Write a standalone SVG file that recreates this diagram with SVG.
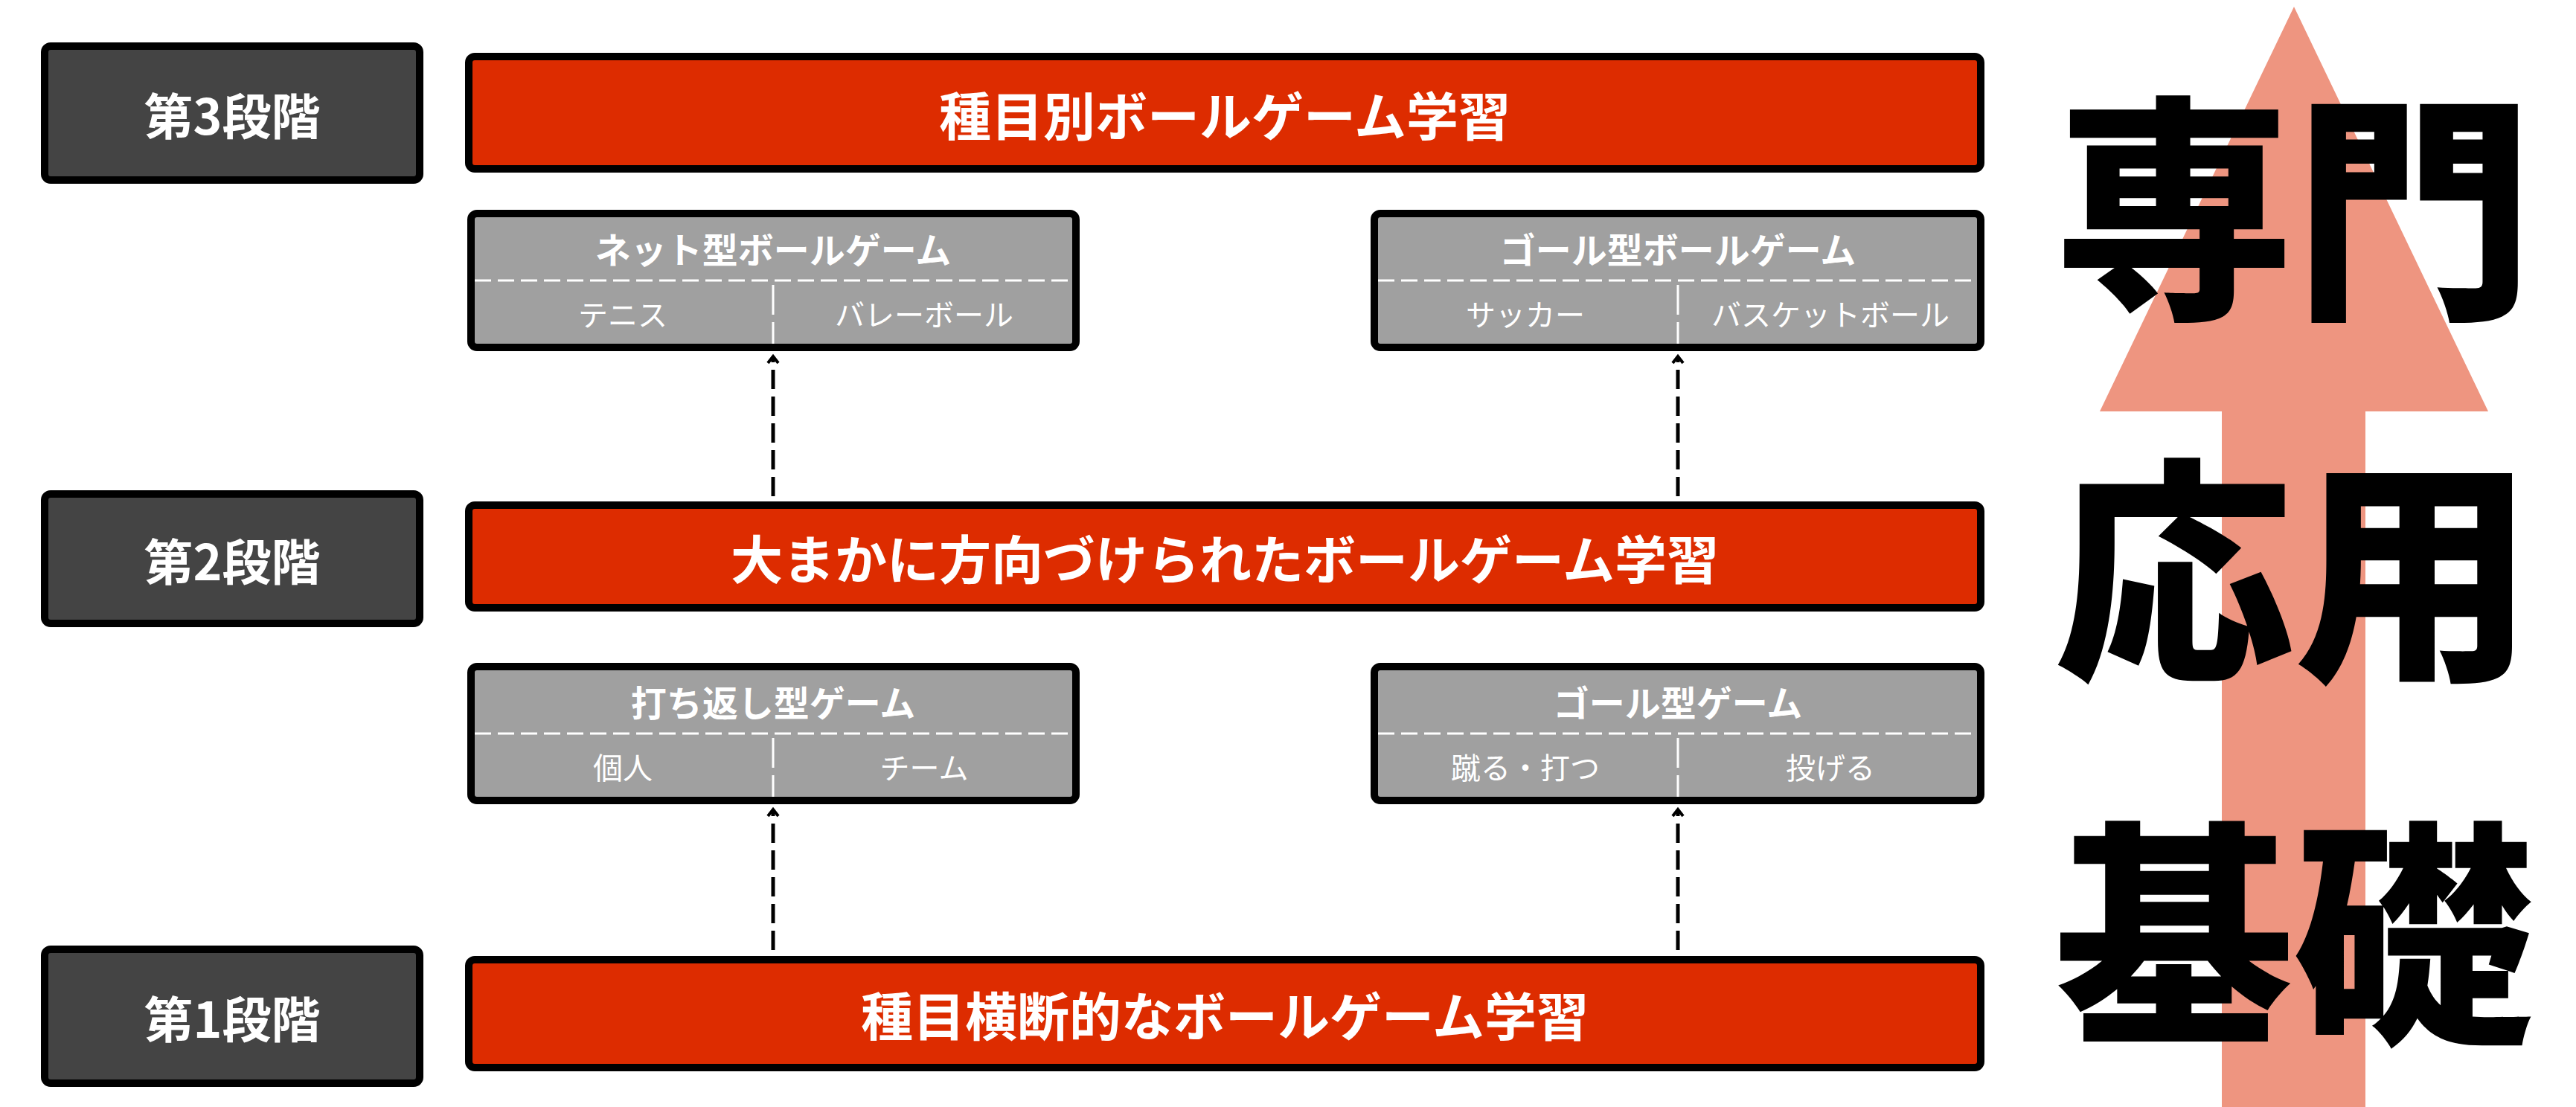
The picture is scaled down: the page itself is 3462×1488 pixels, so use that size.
<svg xmlns="http://www.w3.org/2000/svg" width="3462" height="1488" viewBox="0 0 3462 1488">
<style>
text{font-family:"Noto Sans CJK JP","Noto Sans",sans-serif;font-weight:bold;text-anchor:middle;dominant-baseline:central;fill:#fff}
.stage{fill:#444;stroke:#000;stroke-width:10}
.bar{fill:#DD2C00;stroke:#000;stroke-width:10}
.gray{fill:#A0A0A0;stroke:#000;stroke-width:10}
.sep{stroke:#fff;stroke-width:3;stroke-dasharray:22 9;fill:none}
.div{stroke:#fff;stroke-width:3;stroke-dasharray:40 10;fill:none}
.st{font-size:66px}
.bt{font-size:70px}
.ht{font-size:48px}
.sb{font-size:40px;font-weight:normal}
.big{font-size:322px;fill:#000;font-weight:900}
.con{stroke:#000;stroke-width:5;stroke-dasharray:26 10;fill:none;marker-end:url(#ah)}
</style>
<defs>
<marker id="ah" viewBox="0 0 10 10" refX="5" refY="2" markerWidth="5" markerHeight="5" orient="auto-start-reverse" markerUnits="userSpaceOnUse">
</marker>
<marker id="a" markerUnits="userSpaceOnUse" viewBox="-12 -12 24 24" refX="0" refY="0" markerWidth="24" markerHeight="24" orient="auto">
<path d="M-9,-7 L0,0 L-9,7" fill="none" stroke="#000" stroke-width="4"/>
</marker>
</defs>
<g id="bigarrow"><polygon points="3083,9 3344,553 3179,553 3179,1488 2986,1488 2986,553 2822,553" fill="#EE9580"/></g>
<g id="bigtext">
<text class="big" x="3083" y="263">専門</text>
<text class="big" x="3083" y="750">応用</text>
<text class="big" x="3083" y="1238">基礎</text>
</g>
<g id="stage3"><rect class="stage" x="60" y="62" width="504" height="180" rx="8"/><text class="st" x="312" y="152">第3段階</text></g>
<g id="stage2"><rect class="stage" x="60" y="664" width="504" height="174" rx="8"/><text class="st" x="312" y="751">第2段階</text></g>
<g id="stage1"><rect class="stage" x="60" y="1276" width="504" height="180" rx="8"/><text class="st" x="312" y="1366">第1段階</text></g>
<g id="bar3"><rect class="bar" x="630" y="76" width="2032" height="151" rx="8"/><text class="bt" x="1646" y="152">種目別ボールゲーム学習</text></g>
<g id="bar2"><rect class="bar" x="630" y="679" width="2032" height="138" rx="8"/><text class="bt" x="1646" y="748">大まかに方向づけられたボールゲーム学習</text></g>
<g id="bar1"><rect class="bar" x="630" y="1290" width="2032" height="145" rx="8"/><text class="bt" x="1646" y="1362">種目横断的なボールゲーム学習</text></g>
<g id="net"><rect class="gray" x="633" y="287" width="813" height="180" rx="8"/><line class="sep" x1="638" y1="377" x2="1441" y2="377"/><line class="div" x1="1039" y1="383" x2="1039" y2="462"/>
<text class="ht" x="1039" y="333">ネット型ボールゲーム</text><text class="sb" x="837" y="421">テニス</text><text class="sb" x="1242" y="421">バレーボール</text></g>
<g id="goalball"><rect class="gray" x="1847" y="287" width="815" height="180" rx="8"/><line class="sep" x1="1852" y1="377" x2="2657" y2="377"/><line class="div" x1="2255" y1="383" x2="2255" y2="462"/>
<text class="ht" x="2255" y="333">ゴール型ボールゲーム</text><text class="sb" x="2050" y="421">サッカー</text><text class="sb" x="2460" y="421">バスケットボール</text></g>
<g id="strike"><rect class="gray" x="633" y="896" width="813" height="180" rx="8"/><line class="sep" x1="638" y1="986" x2="1441" y2="986"/><line class="div" x1="1039" y1="992" x2="1039" y2="1071"/>
<text class="ht" x="1039" y="942">打ち返し型ゲーム</text><text class="sb" x="837" y="1030">個人</text><text class="sb" x="1242" y="1030">チーム</text></g>
<g id="goal"><rect class="gray" x="1847" y="896" width="815" height="180" rx="8"/><line class="sep" x1="1852" y1="986" x2="2657" y2="986"/><line class="div" x1="2255" y1="992" x2="2255" y2="1071"/>
<text class="ht" x="2255" y="942">ゴール型ゲーム</text><text class="sb" x="2050" y="1030">蹴る・打つ</text><text class="sb" x="2460" y="1030">投げる</text></g>
<g id="connectors" fill="none" stroke="#000" stroke-width="5">
<line x1="1039" y1="667" x2="1039" y2="479" stroke-dasharray="26 10" marker-end="url(#a)"/>
<line x1="2255" y1="667" x2="2255" y2="479" stroke-dasharray="26 10" marker-end="url(#a)"/>
<line x1="1039" y1="1277" x2="1039" y2="1088" stroke-dasharray="26 10" marker-end="url(#a)"/>
<line x1="2255" y1="1277" x2="2255" y2="1088" stroke-dasharray="26 10" marker-end="url(#a)"/>
</g>
</svg>
